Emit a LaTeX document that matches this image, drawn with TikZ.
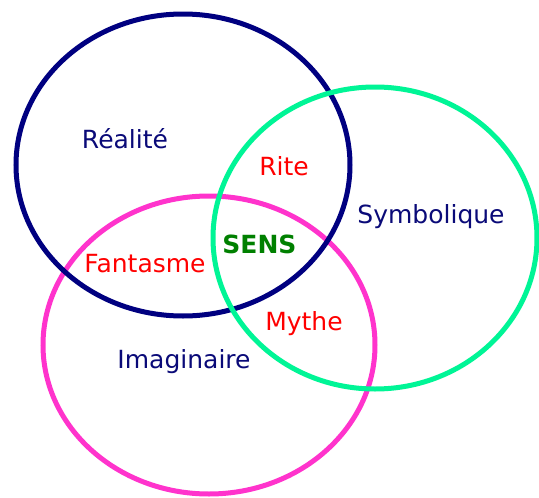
\documentclass[tikz,border=0pt]{standalone}
\usepackage{fontspec}
\setmainfont{DejaVu Sans}
\definecolor{navyc}{RGB}{0,0,128}
\definecolor{greenc}{RGB}{0,245,150}
\definecolor{magc}{RGB}{255,51,204}
\definecolor{labc}{RGB}{10,10,120}
\definecolor{redc}{RGB}{255,0,0}
\definecolor{sensc}{RGB}{0,128,0}
\begin{document}
\begin{tikzpicture}[x=1pt,y=-1pt,
  ring/.style={line width=5pt},
  lab/.style={anchor=base,inner sep=0pt,font=\fontsize{25}{28}\selectfont},
  mainlab/.style={lab,text=labc},
  redlab/.style={lab,text=redc},
  senslab/.style={lab,text=sensc,font=\fontsize{25}{28}\selectfont\bfseries}]
\useasboundingbox (0,0) rectangle (539,498);
\fill[white] (0,0) rectangle (539,498);
\draw[ring,magc] (209,345) ellipse [x radius=166, y radius=149];
\draw[ring,navyc] (183,165) ellipse [x radius=167, y radius=151];
\draw[ring,greenc] (375,238) ellipse [x radius=162, y radius=151];
\node[mainlab] (realite) at (125,148) {Réalité};
\node[mainlab] (symb) at (431,223) {Symbolique};
\node[mainlab] (imag) at (184,368) {Imaginaire};
\node[redlab] (rite) at (284,175) {Rite};
\node[redlab] (fant) at (145,272) {Fantasme};
\node[redlab] (mythe) at (304,330) {Mythe};
\node[senslab] (sens) at (259.5,253) {SENS};
\end{tikzpicture}
\end{document}
